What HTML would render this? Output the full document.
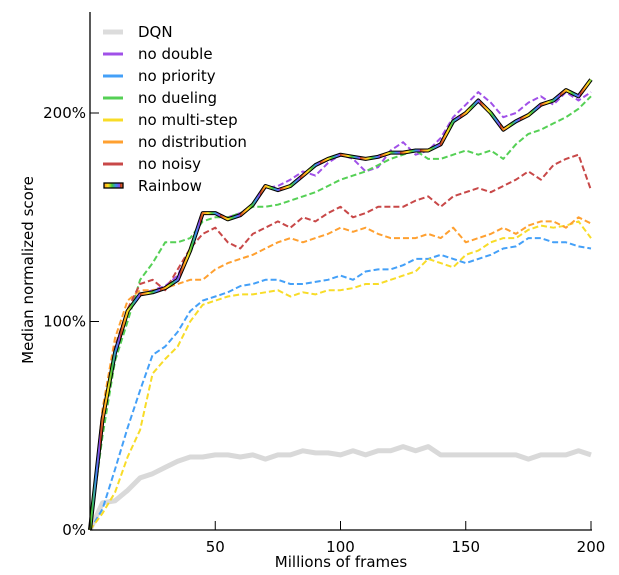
<!DOCTYPE html>
<html><head><meta charset="utf-8"><style>
body{margin:0;background:#fff;}
svg{display:block;font-family:"DejaVu Sans","Liberation Sans",sans-serif;}
</style></head><body>
<svg id="chart" width="619" height="575" viewBox="0 0 619 575">
<defs>
<linearGradient id="rb" gradientUnits="userSpaceOnUse" x1="0" y1="0" x2="20" y2="0" spreadMethod="repeat">
<stop offset="0" stop-color="#b0282a"/><stop offset="0.2" stop-color="#ff9a1f"/><stop offset="0.4" stop-color="#ffe020"/><stop offset="0.6" stop-color="#3fc63f"/><stop offset="0.8" stop-color="#3a8cf0"/><stop offset="1" stop-color="#9a40e0"/>
</linearGradient>
</defs>
<g id="series"></g>
<g id="axes"></g>
<g id="legend"></g>
</svg>
<script>
const xs=[0,5,10,15,20,25,30,35,40,45,50,55,60,65,70,75,80,85,90,95,100,105,110,115,120,125,130,135,140,145,150,155,160,165,170,175,180,185,190,195,200];
const dqn=[0,13,14,19,25,27,30,33,35,35,36,36,35,36,34,36,36,38,37,37,36,38,36,38,38,40,38,40,36,36,36,36,36,36,36,34,36,36,36,38,36];
const noDouble=[0,50,84,104,113,115,117,122,135,152,152,150,152,156,164,165,168,172,170,176,180,178,172,174,182,186,180,182,188,198,204,210,205,198,200,205,208,204,210,206,210];
const noPriority=[0,10,29,49,67,84,88,95,105,110,112,114,117,118,120,120,118,118,119,120,122,120,124,125,125,127,130,130,132,130,128,130,132,135,136,140,140,138,138,136,135];
const noDueling=[0,45,81,100,120,128,138,138,140,148,150,150,152,155,155,156,158,160,162,165,168,170,172,175,178,180,182,178,178,180,182,180,182,178,185,190,192,195,198,202,208];
const noMultiStep=[0,8,18,35,48,75,82,88,100,108,110,112,113,113,114,115,112,114,113,115,115,116,118,118,120,122,124,130,128,126,132,134,138,140,140,144,146,145,146,148,140];
const noDistribution=[0,58,92,110,115,115,116,118,120,120,125,128,130,132,135,138,140,138,140,142,145,143,145,142,140,140,140,142,140,145,138,140,142,145,142,146,148,148,145,150,147];
const noNoisy=[0,52,88,106,118,120,115,125,135,142,145,138,135,142,145,148,145,150,148,152,155,150,152,155,155,155,158,160,155,160,162,164,162,165,168,172,168,175,178,180,163];
const rainbow=[0,53,85,105,113,114,116,120,134,152,152,149,151,156,165,163,165,170,175,178,180,179,178,179,181,181,182,182,185,196,200,206,200,192,196,199,204,206,211,208,216];
const xTicks=[50,100,150,200];
const yTicks=[0,100,200];
const legendLabels=["DQN","no double","no priority","no dueling","no multi-step","no distribution","no noisy","Rainbow"];

const NS="http://www.w3.org/2000/svg";
const X=v=>90+v*(591-90)/200;
const Y=v=>530-v*(530-113)/200;
function mk(tag,attrs,parent){const e=document.createElementNS(NS,tag);for(const k in attrs)e.setAttribute(k,attrs[k]);parent.appendChild(e);return e;}
function pts(arr){return arr.map((v,i)=>X(xs[i]).toFixed(1)+","+Y(v).toFixed(1)).join(" ");}
const sg=document.getElementById("series");
const defs=[
 {d:dqn,c:"#d9d9d9",w:5,dash:null,n:"dqn-line"},
 {d:noDouble,c:"#a050e8",w:2,dash:"6,3",n:"no-double-line"},
 {d:noPriority,c:"#44a0f8",w:2,dash:"6,3",n:"no-priority-line"},
 {d:noDueling,c:"#55d055",w:2,dash:"6,3",n:"no-dueling-line"},
 {d:noMultiStep,c:"#f8dc28",w:2,dash:"6,3",n:"no-multi-step-line"},
 {d:noDistribution,c:"#ffa030",w:2,dash:"6,3",n:"no-distribution-line"},
 {d:noNoisy,c:"#c84848",w:2,dash:"6,3",n:"no-noisy-line"}
];
defs.forEach(s=>{
 const p=mk("polyline",{points:pts(s.d),fill:"none",stroke:s.c,"stroke-width":s.w,"stroke-linejoin":"round"},sg);
 if(s.dash)p.setAttribute("stroke-dasharray",s.dash);
 
 
});
const rb1=mk("polyline",{points:pts(rainbow),fill:"none",stroke:"#000","stroke-width":4,"stroke-linejoin":"round"},sg);


const rb2=mk("polyline",{points:pts(rainbow),fill:"none",stroke:"url(#rb)","stroke-width":2,"stroke-linejoin":"round"},sg);



const ag=document.getElementById("axes");
const ya=mk("line",{x1:90,y1:12,x2:90,y2:530,stroke:"#000","stroke-width":1.3},ag);


const xa=mk("line",{x1:90,y1:530,x2:592,y2:530,stroke:"#000","stroke-width":1.3},ag);


xTicks.forEach(t=>{
 const l=mk("line",{x1:X(t),y1:530,x2:X(t),y2:521,stroke:"#000","stroke-width":1},ag);
 
 
 const tx=mk("text",{x:X(t),y:552,"font-size":15,"text-anchor":"middle",fill:"#000"},ag);
 tx.textContent=t;
 
 
});
yTicks.forEach(t=>{
 const l=mk("line",{x1:90,y1:Y(t),x2:99,y2:Y(t),stroke:"#000","stroke-width":1},ag);
 
 
 const tx=mk("text",{x:86,y:Y(t)+5,"font-size":15,"text-anchor":"end",fill:"#000"},ag);
 tx.textContent=t+"%";
 
 
});
const xt=mk("text",{x:341,y:567,"font-size":15,"text-anchor":"middle",fill:"#000"},ag);
xt.textContent="Millions of frames";


const yt=mk("text",{x:0,y:0,"font-size":15,"text-anchor":"middle",fill:"#000",transform:"translate(33,270) rotate(-90)"},ag);
yt.textContent="Median normalized score";



const lg=document.getElementById("legend");
const lcols=["#dcdcdc","#a050e8","#44a0f8","#55d055","#f8dc28","#ffa030","#c84848",null];
legendLabels.forEach((lab,i)=>{
 const y=32+i*22;
 if(lcols[i]){
  const l=mk("line",{x1:103,y1:y,x2:123,y2:y,stroke:lcols[i],"stroke-width":i==0?5:3},lg);
  
  
 } else {
  const r=mk("rect",{x:104,y:y-3,width:19,height:5,fill:"url(#rb)",stroke:"#000","stroke-width":1.3},lg);
  
  
 }
 const tx=mk("text",{x:138,y:y+5,"font-size":15,fill:"#000"},lg);
 tx.textContent=lab;
 
 
});
</script>
</body></html>
